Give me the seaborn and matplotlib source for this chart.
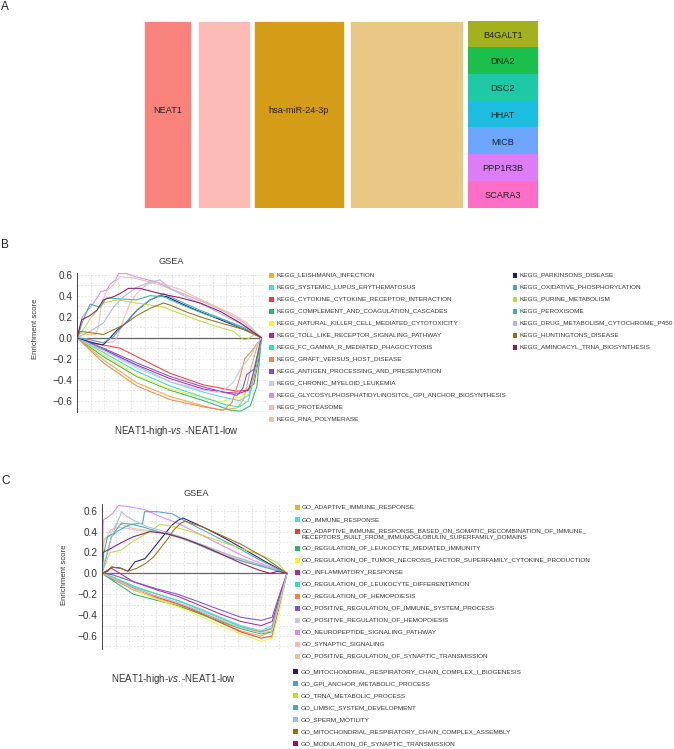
import matplotlib
matplotlib.use("Agg")
import numpy as np
import matplotlib.pyplot as plt
from matplotlib.patches import Rectangle
import seaborn as sns

sns.set_style("white")
plt.rcParams["font.family"] = ["Liberation Sans", "DejaVu Sans"]
plt.rcParams["mathtext.fontset"] = "custom"
plt.rcParams["mathtext.rm"] = "Liberation Sans"
plt.rcParams["mathtext.it"] = "Liberation Sans:italic"

# ---------------- data ----------------
# panel A
A_COLUMNS = ["NEAT1", "", "hsa-miR-24-3p", ""]
A_GENES = ["B4GALT1", "DNA2", "DSC2", "HHAT", "MICB", "PPP1R3B", "SCARA3"]

# panel B (KEGG)
B_NAMES_1 = ["KEGG_LEISHMANIA_INFECTION", "KEGG_SYSTEMIC_LUPUS_ERYTHEMATOSUS",
             "KEGG_CYTOKINE_CYTOKINE_RECEPTOR_INTERACTION", "KEGG_COMPLEMENT_AND_COAGULATION_CASCADES",
             "KEGG_NATURAL_KILLER_CELL_MEDIATED_CYTOTOXICITY", "KEGG_TOLL_LIKE_RECEPTOR_SIGNALING_PATHWAY",
             "KEGG_FC_GAMMA_R_MEDIATED_PHAGOCYTOSIS", "KEGG_GRAFT_VERSUS_HOST_DISEASE",
             "KEGG_ANTIGEN_PROCESSING_AND_PRESENTATION", "KEGG_CHRONIC_MYELOID_LEUKEMIA",
             "KEGG_GLYCOSYLPHOSPHATIDYLINOSITOL_GPI_ANCHOR_BIOSYNTHESIS", "KEGG_PROTEASOME",
             "KEGG_RNA_POLYMERASE"]
B_NAMES_2 = ["KEGG_PARKINSONS_DISEASE", "KEGG_OXIDATIVE_PHOSPHORYLATION", "KEGG_PURINE_METABOLISM",
             "KEGG_PEROXISOME", "KEGG_DRUG_METABOLISM_CYTOCHROME_P450", "KEGG_HUNTINGTONS_DISEASE",
             "KEGG_AMINOACYL_TRNA_BIOSYNTHESIS"]

B_X_1 = [
    [0, 14.3, 32.4, 50.5, 68.7, 77.7, 86.8, 90.4, 94, 97.6, 100],
    [0, 14.3, 32.4, 50.5, 68.7, 80, 88, 93, 97, 100],
    [0, 7, 14.3, 23.4, 32.4, 50.5, 68.7, 77.7, 86.8, 92, 96, 98.6, 100],
    [0, 14.3, 32.4, 50.5, 68.7, 83, 88.6, 94, 97.6, 99.5, 100],
    [0, 14.3, 32.4, 50.5, 68.7, 77.7, 85, 90, 94, 97, 100],
    [0, 14.3, 32.4, 50.5, 68.7, 80, 88, 93, 97, 100],
    [0, 14.3, 32.4, 50.5, 68.7, 81, 88, 93, 97, 100],
    [0, 14.3, 32.4, 50.5, 68.7, 79.5, 84, 88, 91, 95, 100],
    [0, 14.3, 32.4, 50.5, 68.7, 80, 86.8, 90, 92, 96, 98, 100],
    [0, 14.3, 32.4, 50.5, 68.7, 75.9, 81.3, 85, 88.6, 94, 97, 100],
    [0, 3, 9, 13, 16, 18, 21, 22.5, 27, 32, 43, 50, 60, 70, 80, 90, 100],
    [0, 8, 15, 19.8, 21.6, 25.2, 28.8, 32.4, 37.9, 43.3, 46.9, 56, 65, 75, 85, 92, 100],
    [0, 2, 5, 10, 11.6, 13.4, 16, 19.8, 23.4, 30, 40, 50, 60, 70, 80, 90, 100],
]
B_Y_1 = [
    [0, -0.21, -0.43, -0.56, -0.65, -0.69, -0.67, -0.59, -0.31, -0.09, 0],
    [0, -0.12, -0.27, -0.42, -0.52, -0.57, -0.60, -0.55, -0.25, 0],
    [0, -0.05, -0.07, -0.10, -0.18, -0.34, -0.45, -0.48, -0.51, -0.50, -0.44, -0.20, 0],
    [0, -0.18, -0.37, -0.50, -0.60, -0.69, -0.70, -0.65, -0.46, -0.10, 0],
    [0, -0.16, -0.36, -0.49, -0.57, -0.61, -0.58, -0.55, -0.53, -0.30, 0],
    [0, -0.11, -0.26, -0.39, -0.49, -0.52, -0.53, -0.50, -0.25, 0],
    [0, -0.14, -0.32, -0.46, -0.57, -0.64, -0.66, -0.60, -0.30, 0],
    [0, -0.24, -0.46, -0.59, -0.66, -0.69, -0.62, -0.40, -0.20, -0.12, 0],
    [0, -0.10, -0.24, -0.37, -0.47, -0.52, -0.55, -0.48, -0.35, -0.30, -0.15, 0],
    [0, -0.12, -0.29, -0.42, -0.50, -0.52, -0.48, -0.42, -0.30, -0.18, -0.08, 0],
    [0, 0.20, 0.33, 0.44, 0.45, 0.51, 0.55, 0.61, 0.61, 0.58, 0.53, 0.47, 0.40, 0.33, 0.25, 0.15, 0],
    [0, -0.02, -0.05, -0.04, 0.0, 0.17, 0.33, 0.42, 0.51, 0.53, 0.51, 0.46, 0.38, 0.30, 0.22, 0.14, 0],
    [0, 0.04, 0.03, 0.03, 0.10, 0.33, 0.44, 0.51, 0.58, 0.57, 0.53, 0.47, 0.40, 0.33, 0.25, 0.15, 0],
]
B_X_2 = [
    [0, 7, 14, 17, 21.6, 27, 32.4, 39.7, 45, 48.7, 56, 65, 75, 85, 95, 100],
    [0, 7, 14, 19.8, 25.2, 32.4, 39.7, 46.9, 50.5, 58, 67, 77, 87, 100],
    [0, 4.3, 7.1, 14.3, 21.6, 32.4, 39.7, 47, 56, 65, 75, 85, 90.4, 93, 96, 100],
    [0, 3.4, 7.1, 12.5, 16, 23, 32, 39.7, 47, 52, 60, 70, 80, 90, 100],
    [0, 7, 14.3, 19.8, 25.2, 32.4, 39.7, 45, 50.5, 60, 70, 80, 90, 100],
    [0, 1.6, 10.7, 14.3, 17.9, 25.2, 32.4, 39.7, 46.9, 50.5, 60, 70, 80, 90, 100],
    [0, 2.5, 7, 10.7, 14.3, 19.8, 23.4, 27.9, 34, 45, 56, 66.8, 77.7, 88.6, 100],
]
B_Y_2 = [
    [0, -0.04, -0.07, -0.02, 0.07, 0.15, 0.26, 0.36, 0.40, 0.39, 0.33, 0.26, 0.19, 0.12, 0.05, 0],
    [0, -0.02, -0.05, 0.01, 0.12, 0.26, 0.36, 0.42, 0.39, 0.33, 0.26, 0.19, 0.11, 0],
    [0, 0.10, 0.18, 0.33, 0.36, 0.33, 0.31, 0.29, 0.23, 0.17, 0.11, 0.06, -0.02, -0.01, 0.03, 0],
    [0, 0.17, 0.32, 0.29, 0.38, 0.37, 0.36, 0.40, 0.39, 0.35, 0.29, 0.22, 0.17, 0.10, 0],
    [0, 0.06, 0.14, 0.29, 0.39, 0.48, 0.53, 0.55, 0.47, 0.38, 0.30, 0.21, 0.12, 0],
    [0, 0.06, 0.04, 0.03, 0.06, 0.12, 0.21, 0.28, 0.33, 0.31, 0.24, 0.18, 0.13, 0.08, 0],
    [0, 0.17, 0.21, 0.26, 0.36, 0.39, 0.42, 0.47, 0.47, 0.42, 0.38, 0.33, 0.25, 0.14, 0],
]

# panel C (GO)
C_NAMES_1 = ["GO_ADAPTIVE_IMMUNE_RESPONSE", "GO_IMMUNE_RESPONSE",
             "GO_ADAPTIVE_IMMUNE_RESPONSE_BASED_ON_SOMATIC_RECOMBINATION_OF_IMMUNE_\n"
             "RECEPTORS_BUILT_FROM_IMMUNOGLOBULIN_SUPERFAMILY_DOMAINS",
             "GO_REGULATION_OF_LEUKOCYTE_MEDIATED_IMMUNITY",
             "GO_REGULATION_OF_TUMOR_NECROSIS_FACTOR_SUPERFAMILY_CYTOKINE_PRODUCTION",
             "GO_INFLAMMATORY_RESPONSE", "GO_REGULATION_OF_LEUKOCYTE_DIFFERENTIATION",
             "GO_REGULATION_OF_HEMOPOIESIS", "GO_POSITIVE_REGULATION_OF_IMMUNE_SYSTEM_PROCESS",
             "GO_POSITIVE_REGULATION_OF_HEMOPOIESIS", "GO_NEUROPEPTIDE_SIGNALING_PATHWAY",
             "GO_SYNAPTIC_SIGNALING", "GO_POSITIVE_REGULATION_OF_SYNAPTIC_TRANSMISSION"]
C_NAMES_2 = ["GO_MITOCHONDRIAL_RESPIRATORY_CHAIN_COMPLEX_I_BIOGENESIS", "GO_GPI_ANCHOR_METABOLIC_PROCESS",
             "GO_TRNA_METABOLIC_PROCESS", "GO_LIMBIC_SYSTEM_DEVELOPMENT", "GO_SPERM_MOTILITY",
             "GO_MITOCHONDRIAL_RESPIRATORY_CHAIN_COMPLEX_ASSEMBLY", "GO_MODULATION_OF_SYNAPTIC_TRANSMISSION"]

C_NEG_X = [0, 5, 17, 30, 41, 52, 64, 75, 86, 92, 96, 100]
C_Y_1 = [
    [0, -0.04, -0.16, -0.24, -0.30, -0.38, -0.47, -0.55, -0.60, -0.55, -0.30, 0],
    [0, -0.03, -0.13, -0.20, -0.26, -0.33, -0.42, -0.50, -0.55, -0.50, -0.25, 0],
    [0, -0.05, -0.15, -0.23, -0.29, -0.37, -0.47, -0.56, -0.62, -0.60, -0.30, 0],
    [0, -0.06, -0.20, -0.26, -0.31, -0.38, -0.46, -0.53, -0.58, -0.56, -0.30, 0],
    [0, -0.04, -0.15, -0.25, -0.32, -0.40, -0.50, -0.58, -0.65, -0.62, -0.35, 0],
    [0, 0.05, -0.08, -0.16, -0.22, -0.30, -0.39, -0.46, -0.50, -0.46, -0.22, 0],
    [0, -0.03, -0.12, -0.20, -0.26, -0.34, -0.43, -0.51, -0.56, -0.52, -0.28, 0],
    [0, -0.04, -0.14, -0.22, -0.28, -0.36, -0.45, -0.52, -0.56, -0.53, -0.27, 0],
    [0, -0.01, -0.08, -0.15, -0.20, -0.27, -0.35, -0.42, -0.45, -0.42, -0.20, 0],
    [0, -0.04, -0.15, -0.22, -0.28, -0.35, -0.44, -0.52, -0.57, -0.55, -0.28, 0],
]
C_X_POS = [
    [0, 0.7, 3.4, 6, 8.8, 14, 23, 32, 41, 50, 59, 68, 77, 88, 100],
    [0, 1, 5, 9, 14, 20, 27, 35, 45, 55, 65, 75, 85, 93, 100],
    [0, 1, 4, 7.9, 12, 16.9, 26, 35, 45, 55, 65, 75, 85, 93, 100],
    [0, 3, 5.2, 10, 14, 17.8, 23.2, 26.9, 30.5, 34.1, 37.7, 41.3, 43.8, 55, 65, 75, 87.6, 100],
    [0, 3, 5, 8, 13, 16, 22, 23, 30, 38, 45, 55, 65, 75, 85, 100],
    [0, 2, 4.3, 10, 17, 24, 31.4, 38, 50, 60, 70, 80, 88, 95, 100],
    [0, 1, 3, 6, 10.6, 16, 23, 32, 41, 50, 59, 68, 77, 88, 100],
    [0, 2, 5, 10.6, 13, 16.9, 24, 32, 41, 50, 59, 68, 77, 88, 100],
    [0, 3, 5.2, 10, 14, 19, 24, 28, 32, 35.5, 39, 42.5, 45, 55, 65, 75, 88, 100],
    [0, 0.5, 5, 10, 16.9, 26, 35, 45, 55, 65, 75, 85, 91, 95, 100],
]
C_Y_POS = [
    [0, 0.51, 0.54, 0.58, 0.65, 0.64, 0.61, 0.54, 0.48, 0.40, 0.32, 0.24, 0.16, 0.08, 0],
    [0, 0.30, 0.42, 0.44, 0.43, 0.41, 0.40, 0.38, 0.32, 0.26, 0.19, 0.13, 0.07, 0.03, 0],
    [0, 0.33, 0.36, 0.48, 0.46, 0.43, 0.41, 0.38, 0.33, 0.27, 0.20, 0.14, 0.08, 0.04, 0],
    [0, 0.02, 0.06, 0.05, 0.02, 0.11, 0.14, 0.22, 0.30, 0.38, 0.46, 0.51, 0.53, 0.44, 0.35, 0.25, 0.12, 0],
    [0, 0.20, 0.35, 0.40, 0.45, 0.47, 0.48, 0.59, 0.59, 0.57, 0.50, 0.41, 0.32, 0.23, 0.13, 0],
    [0, 0.10, 0.20, 0.22, 0.31, 0.38, 0.47, 0.45, 0.39, 0.33, 0.27, 0.21, 0.16, 0.10, 0],
    [0, 0.20, 0.35, 0.38, 0.48, 0.47, 0.44, 0.39, 0.35, 0.29, 0.22, 0.16, 0.11, 0.06, 0],
    [0, 0.15, 0.34, 0.59, 0.55, 0.51, 0.45, 0.41, 0.36, 0.30, 0.24, 0.18, 0.13, 0.07, 0],
    [0, 0.02, 0.06, 0.05, 0.02, 0.05, 0.10, 0.16, 0.25, 0.33, 0.42, 0.48, 0.50, 0.44, 0.36, 0.28, 0.15, 0],
    [0, 0.20, 0.24, 0.29, 0.35, 0.40, 0.38, 0.33, 0.26, 0.18, 0.10, 0.03, 0.0, 0.02, 0],
]

# ---------------- styles ----------------
A_COL_COLORS = ["#F8837B", "#FBBAB4", "#D59C17", "#E8C884"]
A_GENE_COLORS = ["#A3B11E", "#1BBF4B", "#1EC9A8", "#1BBEE0", "#6EA6FE", "#DC7CF7", "#FF6EC6"]
PAL_1 = ["#F5A83A", "#5BCFF2", "#EC3B41", "#28B866", "#F8EE3A", "#B02A92", "#2DE2B4",
         "#F4844B", "#7D4FD9", "#CBC6E4", "#D38BF3", "#F9B7B6", "#E5C3A3"]
PAL_2 = ["#1B1B7E", "#4FA0C2", "#BCDB48", "#3DB2A2", "#A8B6EC", "#9C6A14", "#8A1866"]

W, H = 674, 749
fig = plt.figure(figsize=(W / 100, H / 100), dpi=100)


def rect(left, top, width, height):
    return [left / W, 1 - (top + height) / H, width / W, height / H]


# ---------------- panel A ----------------
ax_a = fig.add_axes(rect(0, 20.5, W, 187.2))
ax_a.set_xlim(0, W)
ax_a.set_ylim(len(A_GENES), 0)
ax_a.axis("off")
col_left = [143.5, 197.5, 254, 349.5]
col_width = [47.5, 52, 90, 113]
for lab, c, x0, w in zip(A_COLUMNS, A_COL_COLORS, col_left, col_width):
    ax_a.bar(x0, len(A_GENES), width=w, bottom=0, align="edge", color=c,
             edgecolor="white", linewidth=0.5)
    if lab:
        ax_a.text(x0 + w / 2, 3.35, lab, ha="center", va="center", fontsize=6.6, color="#222222")
for i, (g, c) in enumerate(zip(A_GENES, A_GENE_COLORS)):
    ax_a.bar(468, 1, width=69.6, bottom=i, align="edge", color=c, edgecolor="none")
    ax_a.text(468 + 34.8, i + 0.55, g, ha="center", va="center", fontsize=6.6, color="#222222")


# ---------------- GSEA panels ----------------
def gsea_axes(ax, ylo, yhi, x_lines, y_lines):
    ax.set_xlim(0, 102.5)
    ax.set_ylim(ylo, yhi)
    for v in x_lines:
        ax.axvline(v, color="#DADADA", lw=0.5, ls=(0, (2.5, 2.5)), zorder=0)
    for v in y_lines:
        ax.axhline(v, color="#DADADA", lw=0.5, ls=(0, (2.5, 2.5)), zorder=0)
    ax.hlines(0, 0, 100, color="#666666", lw=0.9, zorder=1)
    for s in ["top", "right", "bottom"]:
        ax.spines[s].set_visible(False)
    ax.spines["left"].set_color("#444444")
    ax.spines["left"].set_linewidth(0.7)
    ax.set_xticks([])
    ax.set_yticks([-0.6, -0.4, -0.2, 0.0, 0.2, 0.4, 0.6])
    ax.set_yticklabels(["\u22120.6", "\u22120.4", "\u22120.2", "0.0", "0.2", "0.4", "0.6"])
    ax.tick_params(axis="y", length=2, width=0.6, pad=1.2, labelsize=7.2, colors="#333333")
    ax.set_xlabel("")
    ax.set_ylabel("")


x_grid = np.arange(7.35, 102, 7.35)
y_grid = np.round(np.arange(-0.7, 0.65, 0.1), 1)

ax_b = fig.add_axes(rect(77, 273.1, 189, 138.6))
gsea_axes(ax_b, -0.705, 0.615, x_grid, y_grid)
for xs, ys, c in zip(B_X_1 + B_X_2, B_Y_1 + B_Y_2, PAL_1 + PAL_2):
    sns.lineplot(x=xs, y=ys, color=c, lw=0.75, ax=ax_b, legend=False, estimator=None)
ax_b.set_ylabel("Enrichment score", fontsize=5.6, color="#333333")
ax_b.yaxis.set_label_coords(-0.2, 0.597)

ax_c = fig.add_axes(rect(102, 503.9, 189.6, 145.1))
gsea_axes(ax_c, -0.724, 0.665, x_grid, y_grid)
for ys, c in zip(C_Y_1, PAL_1[:10]):
    sns.lineplot(x=C_NEG_X, y=ys, color=c, lw=0.75, ax=ax_c, legend=False, estimator=None)
for xs, ys, c in zip(C_X_POS, C_Y_POS, PAL_1[10:] + PAL_2):
    sns.lineplot(x=xs, y=ys, color=c, lw=0.75, ax=ax_c, legend=False, estimator=None)
ax_c.set_ylabel("Enrichment score", fontsize=5.6, color="#333333")
ax_c.yaxis.set_label_coords(-0.18, 0.515)

# ---------------- text overlay ----------------
ov = fig.add_axes([0, 0, 1, 1])
ov.set_xlim(0, W)
ov.set_ylim(H, 0)
ov.axis("off")
ov.patch.set_alpha(0)

for lab, y in [("A", 7.5), ("B", 245), ("C", 481)]:
    ov.text(1, y, lab, fontsize=8.5, va="center", ha="left", color="#222222")

xlab = "NEAT1-high-$\\it{vs.}$-NEAT1-low"
ov.text(171, 262, "GSEA", fontsize=6.6, ha="center", va="center", color="#333333")
ov.text(176.8, 431, xlab, fontsize=7, ha="center", va="center", color="#333333")
ov.text(196.7, 494, "GSEA", fontsize=6.6, ha="center", va="center", color="#333333")
ov.text(173.8, 679.3, xlab, fontsize=7, ha="center", va="center", color="#333333")


def legend_item(x_box, x_txt, y, name, color):
    ov.add_patch(Rectangle((x_box, y - 2.3), 4.5, 4.5, color=color, lw=0))
    if "\n" in name:
        ov.text(x_txt, y - 3.4, name, fontsize=4.6, ha="left", va="top",
                linespacing=1.15, color="#333333")
    else:
        ov.text(x_txt, y, name, fontsize=4.6, ha="left", va="center", color="#333333")


for i, (n, c) in enumerate(zip(B_NAMES_1, PAL_1)):
    legend_item(269.3, 276.7, 275.3 + 12 * i, n, c)
for i, (n, c) in enumerate(zip(B_NAMES_2, PAL_2)):
    legend_item(512.7, 519.3, 275.3 + 12 * i, n, c)

c_rows_1 = [507.3, 519.7, 531.7] + [548.3 + 12 * k for k in range(10)]
for n, c, y in zip(C_NAMES_1, PAL_1, c_rows_1):
    legend_item(295, 301.7, y, n, c)
for i, (n, c) in enumerate(zip(C_NAMES_2, PAL_2)):
    legend_item(293.3, 300.7, 671.7 + 12 * i, n, c)

fig.savefig("out.png", dpi=100)
